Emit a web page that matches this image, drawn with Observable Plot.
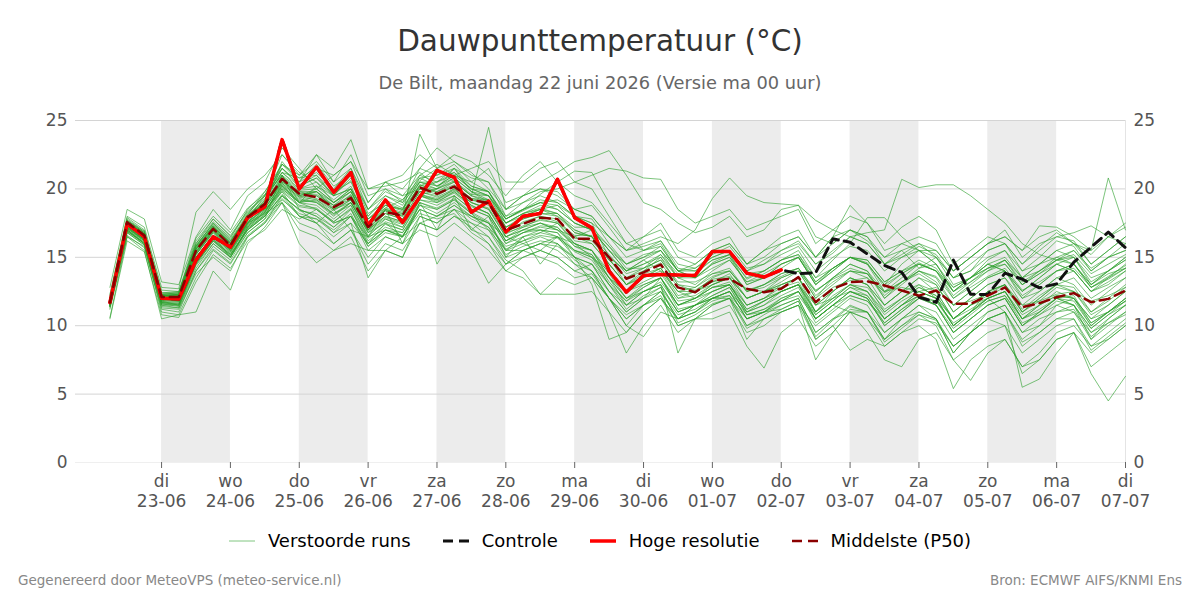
<!DOCTYPE html>
<html><head><meta charset="utf-8">
<script src="https://cdn.jsdelivr.net/npm/d3@7"></script>
<script src="https://cdn.jsdelivr.net/npm/@observablehq/plot@0.6"></script>
<style>
body{margin:0;background:#fff;font-family:"DejaVu Sans",sans-serif;}
#wrap{position:relative;width:1200px;height:600px;overflow:hidden;}
#title{position:absolute;top:23px;left:0;width:1200px;text-align:center;font-size:29.5px;line-height:36px;color:#333;}
#sub{position:absolute;top:72px;left:0;width:1200px;text-align:center;font-size:17.8px;line-height:22px;color:#666;}
#chart{position:absolute;top:100px;left:0;}
#legend{position:absolute;top:530px;left:0;width:1200px;display:flex;justify-content:center;align-items:center;font-size:18px;line-height:22px;color:#000;}
#legend .it{display:flex;align-items:center;margin:0 16px;}
#legend svg{margin-right:13px;}
#footl{position:absolute;left:18px;top:572px;font-size:13.5px;color:#888;}
#footr{position:absolute;right:18px;top:572px;font-size:13.5px;color:#888;}
#warn{position:absolute;left:0;top:0;color:#f0f;font-size:12px;}
</style></head>
<body><div id="wrap">
<div id="title">Dauwpunttemperatuur (°C)</div>
<div id="sub">De Bilt, maandag 22 juni 2026 (Versie ma 00 uur)</div>
<div id="chart"></div>
<div id="legend">
 <div class="it"><svg width="26" height="10"><line x1="0" y1="5" x2="26" y2="5" stroke="#2ca02c" stroke-opacity="0.6" stroke-width="1"/></svg>Verstoorde runs</div>
 <div class="it"><svg width="26" height="10"><line x1="0" y1="5" x2="26" y2="5" stroke="#111" stroke-width="3" stroke-dasharray="10,6"/></svg>Controle</div>
 <div class="it"><svg width="26" height="10"><line x1="0" y1="5" x2="26" y2="5" stroke="#ff0000" stroke-width="3.5"/></svg>Hoge resolutie</div>
 <div class="it"><svg width="26" height="10"><line x1="0" y1="5" x2="26" y2="5" stroke="#8b0000" stroke-width="2.5" stroke-dasharray="10,6"/></svg>Middelste (P50)</div>
</div>
<div id="footl">Gegenereerd door MeteoVPS (meteo-service.nl)</div>
<div id="footr">Bron: ECMWF AIFS/KNMI Ens</div>
<div id="warn"></div>
</div>
<script>
// Forecast steps: every 6 hours from 22-06-2026 06:00 (60 steps)
const firstStep = "2026-06-22T06:00Z";
const stepHours = 6;

// Hoge resolutie (first 10 days)
const hres = [11.7,17.45,16.5,12.0,11.95,14.8,16.5,15.75,17.9,18.7,23.6,20.0,21.6,19.75,21.2,17.3,19.2,17.55,19.4,21.35,20.85,18.3,19.1,16.85,18.0,18.2,20.7,17.9,17.15,14.0,12.45,13.67,13.74,13.7,13.67,15.42,15.42,13.84,13.55,14.08];

// Controle
const control = [11.7,17.45,16.5,12.0,11.95,14.8,16.5,15.75,17.9,18.7,23.6,20.0,21.6,19.75,21.2,17.3,19.2,17.55,19.4,21.35,20.85,18.3,19.1,16.85,18.0,18.2,20.7,17.9,17.15,14.0,12.45,13.67,13.74,13.7,13.67,15.42,15.42,13.84,13.55,14.08,13.8,13.87,16.35,16.1,15.25,14.4,13.9,12.1,11.7,14.8,12.3,12.28,13.84,13.4,12.77,13.06,14.64,15.74,16.84,15.7];

// Middelste (P50)
const p50 = [11.7,17.57,16.6,12.1,12.1,15.5,17.08,15.86,17.93,18.9,20.74,19.64,19.4,18.66,19.35,17.2,18.3,18.05,20.1,19.64,20.17,19.2,18.96,16.96,17.45,17.9,17.8,16.35,16.35,15.0,13.43,13.9,14.47,12.8,12.45,13.3,13.43,12.7,12.45,12.7,13.55,11.72,12.7,13.18,13.25,12.94,12.57,12.2,12.57,11.6,11.6,12.2,12.8,11.35,11.65,12.08,12.38,11.72,11.96,12.57];

// Verstoorde runs (ensemble members)
const m01 = [11.5,17.8,16.9,12.3,12.0,15.2,16.8,15.5,17.5,19.2,21.5,20.3,21.0,19.8,20.5,18.0,19.5,18.8,21.0,20.5,21.2,20.0,19.5,17.8,18.5,19.6,20.5,21.3,21.2,19.0,17.0,15.5,15.8,14.0,13.5,14.6,15.2,14.0,14.8,15.5,16.2,14.5,15.3,16.5,16.8,17.0,20.7,20.1,20.3,20.3,19.5,18.5,17.5,16.0,15.2,14.8,15.5,14.2,15.0,15.5];
const m02 = [11.8,17.2,16.3,11.8,12.2,15.8,17.5,16.3,18.2,19.5,21.0,19.0,20.2,19.5,20.0,17.8,18.6,19.2,20.6,21.5,22.0,21.2,20.0,18.5,19.5,20.5,21.2,22.0,22.3,22.8,21.0,19.0,18.5,17.5,16.8,17.2,18.0,16.5,17.0,18.5,18.8,16.5,16.0,17.0,16.2,15.0,15.5,14.2,15.0,13.5,14.0,15.5,16.0,14.5,15.8,16.8,16.0,15.2,16.5,17.2];
const m03 = [12.0,17.0,16.2,11.5,11.3,14.5,16.2,15.0,17.0,18.0,19.5,18.5,18.0,17.2,18.5,16.0,17.5,16.5,18.8,18.2,19.0,18.0,17.5,15.5,16.5,16.8,16.5,15.5,15.0,13.0,11.5,12.5,13.0,11.0,11.5,12.0,12.5,10.5,11.0,11.5,12.0,9.5,10.5,11.0,10.5,8.5,9.5,10.0,9.0,5.4,7.5,8.5,9.0,7.0,8.0,9.5,10.0,8.5,9.0,10.0];
const m04 = [11.6,17.6,16.7,12.1,12.3,15.6,17.2,16.0,18.0,19.0,22.0,20.5,21.8,20.2,21.0,18.2,19.0,17.5,19.5,20.0,21.5,19.8,19.2,16.5,17.0,17.5,17.0,16.5,17.0,15.5,14.0,14.5,15.2,13.5,13.0,14.0,14.8,13.2,13.5,14.2,15.0,13.0,14.2,15.0,14.5,13.0,13.8,14.5,14.0,12.8,13.5,14.8,15.5,14.0,14.5,15.5,16.0,15.5,20.8,17.0];
const m05 = [11.4,16.8,15.9,11.0,10.8,13.5,15.5,14.5,16.5,17.5,19.5,18.0,17.5,16.0,17.0,14.5,16.0,15.5,17.5,17.0,18.0,17.2,16.0,14.5,15.5,15.0,14.5,13.5,13.8,12.0,10.0,11.5,12.2,10.0,10.5,11.5,12.0,9.0,10.5,11.0,11.5,9.0,10.0,11.2,11.0,9.5,10.5,11.5,10.5,8.0,9.5,10.5,10.0,6.5,7.5,9.0,9.5,6.5,4.5,6.3];
const m06 = [11.9,17.4,16.5,12.2,12.1,15.3,17.0,15.8,17.8,19.5,22.5,21.0,22.0,20.5,22.5,19.5,20.0,19.0,21.5,21.0,21.8,20.5,19.8,18.0,19.0,19.8,20.0,20.5,21.0,21.5,21.3,20.8,20.7,18.5,17.5,18.0,18.5,17.0,17.5,18.0,18.5,16.0,17.0,18.0,17.5,16.0,17.2,18.0,17.0,14.5,15.5,16.5,16.0,14.0,15.0,16.2,15.8,14.0,15.0,16.0];
const m07 = [11.7,17.3,16.4,12.0,11.8,15.0,16.6,15.6,17.6,18.5,20.5,19.8,19.5,18.8,19.2,17.5,18.8,18.5,20.5,20.2,21.0,20.0,19.5,17.2,18.0,18.5,18.8,18.0,17.5,16.5,15.5,16.0,16.5,16.0,17.0,19.3,20.8,19.5,19.0,18.9,18.8,17.7,17.0,16.5,16.0,14.5,15.2,16.0,15.0,13.0,13.5,14.5,14.0,12.0,13.0,14.0,14.5,13.0,13.8,14.2];
const m08 = [11.5,17.0,16.0,11.8,11.5,14.8,16.5,15.0,17.2,18.2,20.0,19.0,18.5,17.5,18.0,16.5,17.0,16.5,19.0,18.5,19.2,18.2,17.0,15.0,15.5,16.0,15.5,14.5,13.5,11.0,8.0,10.0,11.5,9.5,10.5,11.0,11.5,9.5,10.0,11.0,11.5,10.0,11.0,12.0,11.5,9.5,10.5,11.5,11.0,9.0,10.0,11.0,11.5,9.5,10.0,11.5,12.0,10.5,11.0,12.0];
const m09 = [11.8,17.6,16.8,12.4,12.5,16.0,17.8,16.5,18.3,19.5,21.0,20.0,20.5,19.0,20.0,17.0,18.5,18.0,24.0,21.5,20.5,19.5,24.5,18.5,19.0,19.5,19.0,18.0,17.5,15.0,13.0,14.0,15.0,13.0,12.5,13.0,13.5,12.0,12.5,13.5,14.0,12.0,13.5,14.5,14.0,12.5,13.2,13.8,13.0,11.0,12.0,13.0,13.5,11.5,12.5,13.5,13.0,11.5,12.5,13.5];
const m10 = [11.6,17.5,16.6,12.2,12.3,15.8,17.5,16.2,18.1,19.8,21.5,20.5,22.5,21.5,23.6,20.0,20.5,19.5,20.0,20.5,21.5,20.8,20.5,18.0,18.5,19.0,18.5,17.5,17.0,15.5,14.0,14.8,14.0,12.5,12.0,12.8,13.0,11.5,12.0,13.0,13.5,11.0,12.5,13.5,13.0,11.5,12.5,13.0,12.0,10.0,11.0,12.5,13.0,11.0,12.0,13.0,13.5,12.0,12.8,13.5];
const m11 = [12.2,18.0,17.2,12.8,12.7,18.3,19.8,18.5,20.0,21.0,22.5,21.2,20.5,19.5,21.0,18.5,19.5,19.0,20.5,20.0,20.8,19.8,19.0,17.5,18.0,18.5,18.0,17.0,16.5,14.5,13.0,13.8,14.2,12.5,12.8,13.8,14.0,12.5,13.0,13.8,14.2,12.5,13.5,14.2,13.8,12.0,13.0,14.0,13.5,11.5,12.5,13.5,14.0,12.5,13.5,14.5,15.0,13.0,14.0,14.8];
const m12 = [11.3,16.5,15.5,10.5,10.8,11.0,14.0,12.6,16.0,17.2,19.0,17.0,16.5,15.5,16.5,14.0,15.5,15.0,17.5,17.0,18.0,17.5,16.5,14.5,15.0,15.5,15.0,14.0,14.5,12.5,11.0,12.0,12.8,11.0,11.5,12.5,13.0,11.0,11.5,12.5,13.0,11.5,12.0,13.0,12.5,10.5,11.5,12.5,12.0,10.0,11.0,12.0,12.5,10.5,11.5,12.5,12.0,10.5,11.5,12.5];
const m13 = [11.7,17.2,16.2,11.9,12.0,15.2,16.8,15.7,17.5,18.5,19.8,18.0,17.5,16.5,17.5,16.0,17.0,16.5,18.5,14.5,16.5,15.5,13.1,14.5,15.5,16.0,16.5,15.5,15.0,14.0,12.5,13.5,14.0,12.0,12.5,13.2,13.5,12.0,12.5,13.0,13.5,11.5,12.5,13.5,13.0,11.0,12.0,13.0,12.5,10.5,11.5,12.5,13.0,11.0,12.0,13.0,12.5,11.0,12.0,13.0];
const m14 = [11.6,17.1,16.3,11.7,11.6,14.6,16.2,15.2,17.0,18.0,19.5,18.5,18.0,16.8,18.0,15.5,16.5,16.0,18.0,17.5,18.5,17.0,16.5,14.8,14.0,12.3,12.3,12.3,12.5,11.0,9.5,11.0,12.0,10.5,11.0,12.0,12.5,11.0,11.5,12.2,12.8,10.5,11.5,12.5,12.2,10.5,11.5,12.2,11.5,9.5,10.5,11.5,12.0,10.0,11.0,12.0,11.8,10.0,11.0,11.8];
const m15 = [11.9,17.7,16.8,12.3,12.4,15.9,17.4,16.2,18.0,19.0,21.0,19.5,20.0,19.0,19.8,17.5,18.5,18.2,20.0,19.8,20.5,19.5,19.0,17.5,18.2,18.8,18.5,17.5,17.0,15.5,14.5,15.0,15.5,14.0,14.0,15.0,15.5,14.0,14.5,15.5,16.0,14.5,15.5,16.5,16.0,14.5,15.5,16.0,15.5,14.0,15.0,16.0,16.5,15.5,17.3,17.2,16.5,15.5,16.5,17.5];
const m16 = [11.5,16.9,16.0,11.6,11.4,14.2,16.0,15.0,17.2,18.3,20.2,19.2,19.0,18.0,19.0,16.8,17.5,17.0,19.2,19.0,19.5,18.5,18.0,16.0,16.5,17.0,16.8,15.0,14.0,12.0,10.5,11.5,12.0,10.0,10.5,10.5,11.0,8.5,6.9,9.5,10.5,8.5,9.5,11.0,10.5,9.0,10.5,11.0,10.5,8.5,9.5,11.0,11.5,9.5,10.5,11.0,11.5,9.5,10.5,11.5];
const m17 = [11.6,17.3,16.5,12.0,11.9,14.9,16.6,15.4,17.4,18.4,20.0,19.0,19.5,18.5,19.0,17.0,18.0,17.6,19.5,19.2,20.0,19.0,18.5,16.5,17.0,17.5,17.0,15.8,15.5,13.5,11.5,12.5,13.0,8.0,10.5,11.5,12.0,10.0,10.5,11.0,11.5,7.5,9.5,11.0,11.0,9.0,10.0,11.0,10.5,8.0,9.5,10.5,11.0,8.5,9.5,10.5,11.0,9.0,10.0,11.0];
const m18 = [11.7,17.4,16.6,12.1,12.0,15.4,17.0,15.8,17.8,18.8,20.5,19.5,19.8,18.5,19.5,17.2,18.2,17.8,19.8,19.5,20.2,19.2,18.8,16.8,17.2,17.8,17.5,16.5,16.0,14.5,13.0,13.5,14.2,12.5,12.5,13.5,14.0,12.5,12.8,13.5,14.0,12.0,13.0,14.0,13.5,11.5,12.5,13.5,12.5,10.5,11.5,12.0,11.0,5.5,6.1,8.0,9.5,8.0,9.0,10.0];
const m19 = [11.8,17.5,16.6,12.2,12.2,15.6,17.1,15.9,17.9,18.9,20.8,19.8,19.8,18.8,19.8,17.3,18.5,18.2,20.3,19.8,20.3,19.3,19.2,17.2,17.8,18.2,18.0,16.8,16.5,15.0,14.0,14.5,15.0,13.5,13.5,14.5,15.0,13.5,14.0,14.8,15.5,13.5,14.8,16.0,17.9,17.9,16.5,15.5,14.5,12.5,13.5,14.5,14.0,12.5,13.5,14.5,14.0,12.5,13.5,14.5];
const m20 = [11.5,17.0,16.1,11.7,11.7,14.8,16.4,15.3,17.3,18.3,20.3,19.3,19.0,18.2,19.0,16.8,17.8,17.4,19.6,19.2,19.8,18.8,18.2,16.2,16.8,17.2,17.0,16.0,15.5,13.8,12.0,12.8,13.5,11.5,12.0,12.5,13.0,11.0,11.8,12.5,13.0,11.0,12.0,12.5,12.0,10.0,11.0,12.0,11.5,9.5,10.5,11.5,12.0,10.0,11.0,12.0,11.5,9.0,10.5,11.5];
const m21 = [11.8,17.6,16.7,12.3,12.3,15.7,17.3,16.1,18.1,19.1,21.2,20.0,20.2,19.2,20.2,17.6,18.8,18.5,20.8,20.2,20.8,19.8,19.5,17.5,18.2,18.5,18.2,17.0,16.5,15.0,14.0,14.8,15.5,14.0,14.5,15.5,16.0,14.5,15.0,16.0,16.5,15.0,16.5,18.8,17.5,15.5,16.0,15.5,15.0,13.5,14.0,15.0,15.5,13.5,14.5,15.5,15.0,13.5,14.0,15.0];
const m22 = [11.6,17.2,16.3,11.8,11.8,15.0,16.6,15.5,17.5,18.6,20.3,19.0,19.2,18.2,18.8,16.5,17.8,17.2,19.5,19.0,19.8,18.8,18.2,16.2,17.0,17.0,16.5,15.0,13.0,9.0,9.5,11.0,12.0,10.5,11.5,12.0,12.5,10.5,11.0,12.0,12.5,10.5,11.5,12.5,12.0,10.0,11.0,12.0,11.8,10.0,11.0,12.0,12.5,10.5,11.5,12.2,12.0,10.0,11.0,12.0];
const m23 = [11.7,17.3,16.4,11.9,11.9,15.2,16.9,15.6,17.6,18.6,20.4,19.4,19.2,18.4,19.2,17.0,18.0,17.6,19.6,19.3,19.9,19.0,18.5,16.5,17.2,17.5,17.2,16.0,15.5,14.0,12.5,13.0,13.5,11.8,12.0,12.8,13.2,11.5,12.0,12.5,13.0,10.5,11.5,11.0,9.5,7.5,7.0,9.0,9.5,7.5,8.5,9.5,10.0,8.0,9.0,10.0,10.5,8.5,9.5,10.5];
const m24 = [11.8,17.5,16.5,12.0,12.1,15.5,17.1,15.9,17.9,18.9,20.7,19.7,19.6,18.8,19.5,17.3,18.4,18.1,20.2,19.7,20.2,19.3,19.0,17.0,17.5,18.0,17.8,16.4,16.2,14.8,13.5,14.0,14.6,12.8,12.6,13.4,13.6,12.7,12.5,12.8,13.5,11.8,12.8,13.3,13.5,12.5,12.8,12.5,12.8,11.5,11.8,12.3,13.0,11.5,11.8,12.3,12.5,11.8,12.2,12.8];
const m25 = [11.6,17.4,16.6,12.1,12.2,15.4,17.0,15.9,17.9,19.0,21.8,20.8,21.0,19.5,20.8,18.5,19.8,19.2,20.8,21.0,21.5,20.2,19.8,17.8,18.5,19.2,19.0,18.0,17.8,16.0,14.5,15.2,15.5,13.5,13.8,14.8,15.2,13.0,13.5,14.5,15.0,13.0,14.0,15.0,14.5,13.0,14.5,15.5,15.5,14.0,15.0,16.0,17.0,15.0,16.0,16.5,16.2,14.5,15.5,16.5];
const m26 = [11.5,17.1,16.2,11.7,11.5,14.7,16.3,15.2,17.1,18.1,19.8,18.7,18.5,17.6,18.5,16.2,17.2,16.8,18.8,18.5,19.2,18.2,17.5,15.5,16.0,16.5,16.0,15.0,14.5,12.5,11.0,12.0,12.5,10.5,11.0,11.8,12.2,10.0,10.8,11.5,12.0,9.5,10.5,11.5,11.0,9.0,10.0,10.8,10.0,7.5,6.0,8.0,9.0,7.0,7.5,9.0,9.5,7.0,8.0,9.0];
const m27 = [11.9,17.6,16.7,12.2,12.3,15.8,17.3,16.0,18.0,19.2,21.2,20.2,20.8,19.6,20.6,18.0,19.2,18.6,20.5,20.5,21.0,20.0,19.8,17.8,18.5,19.0,18.8,17.5,17.0,15.8,14.5,15.0,15.8,14.0,14.2,15.2,15.8,14.2,14.5,15.2,15.8,14.0,15.0,15.8,15.5,14.0,15.0,15.8,15.2,13.5,14.5,15.5,16.0,14.5,15.5,16.5,16.8,17.3,16.5,16.0];
const m28 = [11.6,17.2,16.4,11.9,11.8,15.0,16.6,15.5,17.4,18.4,20.2,19.0,18.8,17.8,18.8,16.6,17.6,17.2,19.2,18.8,19.5,18.5,18.0,16.0,16.8,17.0,16.8,15.5,15.2,13.5,12.0,12.5,13.0,11.0,11.5,12.2,12.8,10.8,11.0,11.2,11.8,9.0,10.0,8.2,9.0,8.5,9.5,10.5,10.2,8.5,9.5,10.5,11.0,9.0,10.0,11.0,11.2,9.2,10.2,11.0];
const m29 = [11.7,17.3,16.5,12.0,12.0,15.3,16.9,15.7,17.7,18.7,20.6,19.5,19.3,18.5,19.2,17.0,18.2,17.8,19.8,19.4,20.0,19.0,18.6,16.7,17.3,17.7,17.5,16.2,16.0,14.5,13.0,13.6,14.2,12.2,12.5,13.2,13.8,12.0,12.5,13.2,14.0,12.5,13.5,14.5,14.0,12.0,13.2,14.2,14.5,12.8,13.5,14.2,14.8,13.0,13.8,14.5,14.0,12.5,13.2,14.0];
const m30 = [11.5,17.0,16.0,11.6,11.6,14.5,16.2,15.1,17.0,18.0,19.6,18.4,18.2,17.2,18.2,15.8,16.8,16.5,18.5,18.0,18.8,17.8,17.2,15.2,15.8,16.2,16.0,14.8,14.0,12.0,10.0,9.2,11.0,10.5,11.5,12.0,12.2,10.8,11.2,11.8,12.5,10.8,11.8,12.8,12.5,10.8,11.8,12.5,12.0,10.5,11.2,12.0,12.5,10.8,11.5,12.2,12.0,10.2,11.0,11.8];
const m31 = [11.6,17.2,16.4,11.9,12.0,15.0,16.5,15.6,17.5,18.2,19.0,16.0,14.6,15.5,16.0,15.5,15.5,16.5,17.5,18.0,18.5,18.0,17.5,16.5,16.0,15.5,16.5,16.0,15.0,13.5,12.5,13.2,13.8,12.0,12.2,13.0,13.5,11.5,12.0,12.8,13.2,11.0,12.0,13.0,12.8,11.2,12.0,12.8,12.2,10.5,11.5,12.5,13.0,11.2,12.2,13.0,12.8,11.0,11.8,12.8];
const m32 = [11.8,17.7,16.8,12.3,12.4,16.0,17.6,16.4,18.5,19.8,21.8,21.0,22.5,20.5,21.5,19.0,20.5,20.0,21.5,23.0,22.0,21.0,20.5,18.5,19.5,20.0,19.5,18.5,18.0,16.5,15.0,15.5,16.2,14.5,14.2,15.0,15.5,13.8,14.0,14.8,15.2,13.5,14.2,15.0,14.8,13.2,14.0,14.8,14.2,12.5,13.5,14.2,14.5,13.0,13.8,14.8,15.0,13.2,14.0,15.0];
const m33 = [11.4,16.9,16.0,11.5,11.5,14.4,16.0,15.0,16.8,17.8,19.3,18.0,17.8,16.8,17.5,13.5,15.5,15.0,18.0,17.5,18.5,17.5,17.0,15.5,15.5,16.0,15.8,15.0,14.5,13.0,11.8,12.5,13.2,11.5,11.8,12.5,13.0,11.2,11.8,12.5,13.0,11.0,12.2,13.0,12.5,11.0,12.0,12.8,12.2,10.5,11.5,12.2,12.8,11.0,11.8,12.8,12.5,10.8,11.5,12.5];
const m34 = [11.7,17.5,16.6,12.1,12.1,15.6,17.2,16.0,18.0,19.0,20.9,19.9,20.0,19.0,19.8,17.5,18.6,18.3,20.3,20.0,20.5,19.5,19.2,17.2,17.8,18.2,18.2,17.2,17.2,15.8,14.2,14.2,14.8,13.2,13.2,13.8,14.2,12.5,13.0,13.8,14.2,12.2,13.2,14.0,13.8,12.2,13.2,14.0,13.2,11.5,12.5,13.5,14.0,12.2,13.0,14.0,14.5,12.8,13.5,14.2];
const m35 = [11.6,17.1,16.3,11.8,11.8,14.9,16.5,15.4,17.3,18.3,20.1,19.1,19.1,18.1,19.0,16.9,17.9,17.5,19.5,19.1,19.7,18.7,18.2,16.2,16.8,17.3,17.2,15.8,15.2,13.2,11.8,12.8,13.5,11.2,11.5,12.2,12.8,10.8,11.2,12.0,12.5,10.2,11.2,12.2,11.8,10.2,11.2,12.2,11.8,10.2,11.0,11.8,12.2,10.2,10.8,11.5,11.0,9.5,10.2,10.8];
const m36 = [11.9,17.6,16.7,12.2,12.3,15.7,17.2,16.1,18.1,19.3,21.5,20.2,20.8,19.5,20.0,17.8,19.0,18.5,20.2,20.8,21.2,20.2,19.8,17.5,18.2,18.6,18.2,16.8,16.5,14.8,13.5,14.2,15.2,13.8,13.5,14.2,14.8,13.2,13.8,14.5,15.0,13.2,14.2,15.0,14.8,13.2,14.0,14.5,14.0,12.5,13.2,14.0,14.8,13.5,14.0,14.8,15.2,13.8,14.5,15.2];
const m37 = [10.6,16.5,15.8,11.2,11.0,14.0,15.8,14.8,16.8,17.8,21.0,18.5,17.5,18.5,17.0,16.5,18.5,16.0,19.0,17.0,19.5,17.0,18.0,15.0,16.5,14.5,16.0,14.5,14.0,12.5,11.5,12.0,13.5,11.5,12.0,13.0,13.5,12.0,12.5,13.0,13.5,11.5,12.5,13.5,13.0,11.5,12.5,13.5,13.0,11.0,12.0,13.0,13.5,12.0,12.5,13.5,14.0,12.5,13.0,14.0];
const m38 = [12.8,18.5,17.8,13.2,13.0,16.5,18.5,17.0,19.5,20.5,23.0,21.5,20.0,21.0,22.0,19.0,20.5,21.0,22.5,21.5,22.5,22.0,21.0,19.5,21.0,22.0,20.5,19.5,19.0,17.5,16.0,16.5,17.5,15.5,15.0,16.0,16.5,14.5,15.5,16.5,17.0,15.0,16.0,17.0,16.5,15.0,16.0,16.5,16.0,14.0,15.0,16.0,16.5,15.5,16.5,17.0,16.0,14.5,15.5,16.5];
const m39 = [11.2,16.6,15.7,11.3,11.2,13.8,15.0,14.0,16.5,17.5,19.0,17.5,17.0,16.0,17.0,15.0,16.5,16.0,17.0,16.5,17.5,16.5,15.5,14.0,15.0,15.5,15.0,14.0,13.5,12.0,10.5,11.5,12.5,10.5,11.0,12.0,12.0,10.5,11.0,11.8,12.2,10.5,11.5,12.2,11.8,10.5,11.5,12.2,11.5,9.8,10.8,11.8,12.2,10.5,11.2,12.0,11.5,9.8,10.8,11.5];
const m40 = [11.9,17.7,16.9,12.4,12.4,16.2,17.8,16.6,18.4,19.5,21.8,20.5,21.2,20.0,21.5,18.5,20.0,19.5,21.0,21.8,21.0,20.5,21.5,19.0,19.5,20.0,19.8,18.5,18.0,16.5,15.5,16.5,17.0,15.0,14.5,15.5,16.0,14.5,15.5,16.0,16.5,15.0,16.5,17.0,16.5,14.5,15.0,15.5,14.5,12.5,13.5,14.5,15.0,13.5,14.5,15.0,14.5,13.0,14.0,14.8];
const m41 = [10.5,16.2,15.4,10.8,10.6,13.2,15.2,14.2,16.2,17.0,18.5,17.8,18.5,17.5,18.0,16.0,17.0,16.8,18.5,18.0,18.8,18.0,17.2,15.8,16.2,16.8,17.5,16.0,15.5,13.5,12.0,13.0,13.5,11.5,12.0,12.8,13.0,11.2,11.8,12.5,13.0,10.8,11.8,12.8,12.2,10.5,11.5,12.5,12.0,10.0,11.0,12.0,12.5,10.5,11.0,12.0,12.2,10.2,11.0,12.0];
const m42 = [12.3,17.9,17.0,12.6,12.5,16.4,18.0,16.8,18.6,19.6,21.2,20.8,21.5,21.0,22.0,20.0,20.2,20.5,21.2,20.2,21.0,21.5,22.0,20.5,20.5,21.5,22.0,20.5,20.0,18.0,16.0,15.5,16.0,14.0,13.5,14.5,15.0,13.0,13.5,14.5,15.0,13.0,14.0,15.0,14.5,12.5,13.5,14.5,14.0,12.0,13.0,14.0,14.5,13.0,14.0,15.0,15.5,14.0,15.0,15.5];
const m43 = [11.4,16.8,15.9,11.4,11.3,14.0,15.6,14.6,16.6,17.6,19.2,18.2,17.8,17.0,18.0,15.8,17.0,16.6,18.2,17.8,18.2,16.8,16.0,14.0,13.5,12.3,13.5,13.0,13.5,12.0,10.8,11.5,12.5,10.8,11.2,12.0,12.5,10.5,11.0,11.8,12.5,10.5,11.5,12.5,12.0,10.2,11.2,12.0,11.5,9.5,10.5,11.5,12.0,10.0,10.8,11.8,11.5,9.8,10.8,11.8];
const m44 = [11.7,17.4,16.5,12.0,12.0,15.4,17.0,15.8,17.8,18.8,20.6,19.6,19.8,18.6,19.6,17.4,18.4,18.0,20.0,19.6,20.2,19.2,19.0,16.8,17.6,18.0,17.6,16.6,16.6,15.2,13.8,14.2,14.8,13.0,12.8,13.6,14.0,12.6,13.0,13.6,14.2,12.6,13.4,14.0,13.8,12.4,13.2,14.0,13.6,12.0,12.8,13.6,14.2,12.6,13.2,14.0,14.2,12.8,13.4,14.2];
const m45 = [11.8,17.5,16.7,12.2,12.2,15.6,17.3,16.0,18.0,19.0,20.4,19.4,19.8,19.0,20.0,17.8,18.8,18.4,19.8,20.0,20.6,19.6,19.5,17.8,18.4,19.0,19.2,18.5,18.8,17.2,15.5,15.8,16.2,14.2,14.0,14.8,15.2,13.4,14.0,14.8,15.2,13.2,14.2,15.0,14.6,12.8,13.8,14.6,14.0,12.2,13.2,14.2,14.8,13.2,14.0,14.8,14.5,12.8,13.6,14.4];
const m46 = [11.4,16.9,16.1,11.6,11.5,14.6,16.3,15.2,17.1,18.1,19.9,18.8,18.6,17.6,18.6,16.4,17.4,17.0,19.0,18.6,19.3,18.3,17.6,15.6,16.2,16.6,16.4,15.4,14.8,13.0,11.2,12.2,12.8,10.2,10.8,11.6,12.0,9.8,10.5,11.2,11.8,9.2,10.4,11.4,11.0,8.8,9.8,10.8,10.4,8.5,9.5,10.5,11.0,8.8,9.5,10.5,10.5,8.2,9.2,10.2];
const members = [m01,m02,m03,m04,m05,m06,m07,m08,m09,m10,m11,m12,m13,m14,m15,m16,m17,m18,m19,m20,m21,m22,m23,m24,m25,m26,m27,m28,m29,m30,m31,m32,m33,m34,m35,m36,m37,m38,m39,m40,m41,m42,m43,m44,m45,m46];

// Axis ticks (days at 00:00) and shaded days
const tickDays = ["2026-06-23","2026-06-24","2026-06-25","2026-06-26","2026-06-27","2026-06-28","2026-06-29","2026-06-30","2026-07-01","2026-07-02","2026-07-03","2026-07-04","2026-07-05","2026-07-06","2026-07-07"];
const shadedDays = ["2026-06-23","2026-06-25","2026-06-27","2026-06-29","2026-07-01","2026-07-03","2026-07-05"];
const weekdays = ["zo","ma","di","wo","do","vr","za"];
const yTicks = [0,5,10,15,20,25];
const xStart = "2026-06-21T18:00Z", xEnd = "2026-07-07T00:00Z";

// ---- build tables ----
const t0 = new Date(firstStep).getTime();
const timeAt = i => new Date(t0 + i * stepHours * 3600e3);
const rows = (arr, name) => arr.map((v, i) => ({t: timeAt(i), v, run: name}));
const memberRows = members.flatMap((m, k) => rows(m, "m" + k));
const bad = members.map((m,k)=>[k+1,m.length]).filter(d=>d[1]!==60);
if (bad.length) document.getElementById("warn").textContent = "LEN: " + bad.map(d=>d.join(":")).join(" ");
const bands = shadedDays.map(d => { const a = new Date(d + "T00:00Z"); return {a, b: new Date(a.getTime() + 864e5)}; });
const ticks = tickDays.map(d => new Date(d + "T00:00Z"));
const fmt = d => weekdays[d.getUTCDay()] + "\n" + d3.utcFormat("%d-%m")(d);

const chart = Plot.plot({
  width: 1200, height: 420,
  marginTop: 20, marginBottom: 58, marginLeft: 75, marginRight: 75,
  style: {fontFamily: "DejaVu Sans", fontSize: "17px", color: "#555", background: "transparent", overflow: "visible"},
  x: {type: "utc", domain: [new Date(xStart), new Date(xEnd)]},
  y: {domain: [0, 25]},
  marks: [
    Plot.rect(bands, {x1: "a", x2: "b", fill: "#ececec"}),
    Plot.ruleY(yTicks.filter(d => d > 0), {stroke: "#d4d4d4", strokeWidth: 1}),
    Plot.ruleY([0], {stroke: "#efefef", strokeWidth: 1}),
    Plot.ruleX([new Date(xEnd)], {stroke: "#e4e4e4", strokeWidth: 1}),
    Plot.line(memberRows, {x: "t", y: "v", z: "run", stroke: "#2ca02c", strokeWidth: 1, strokeOpacity: 0.62}),
    Plot.line(rows(control, "c"), {x: "t", y: "v", stroke: "#111", strokeWidth: 3, strokeDasharray: "10,6"}),
    Plot.line(rows(hres, "h"), {x: "t", y: "v", stroke: "#ff0000", strokeWidth: 3.5}),
    Plot.line(rows(p50, "p"), {x: "t", y: "v", stroke: "#8b0000", strokeWidth: 2.5, strokeDasharray: "10,6"}),
    Plot.axisY({anchor: "left", ticks: yTicks, tickSize: 0, tickPadding: 8, label: null}),
    Plot.axisY({anchor: "right", ticks: yTicks, tickSize: 0, tickPadding: 8, label: null}),
    Plot.axisX({ticks: ticks, tickFormat: fmt, tickSize: 6, tickPadding: 4, lineHeight: 1.2, label: null, stroke: "#666"})
  ]
});
document.getElementById("chart").appendChild(chart);
</script>
</body></html>
